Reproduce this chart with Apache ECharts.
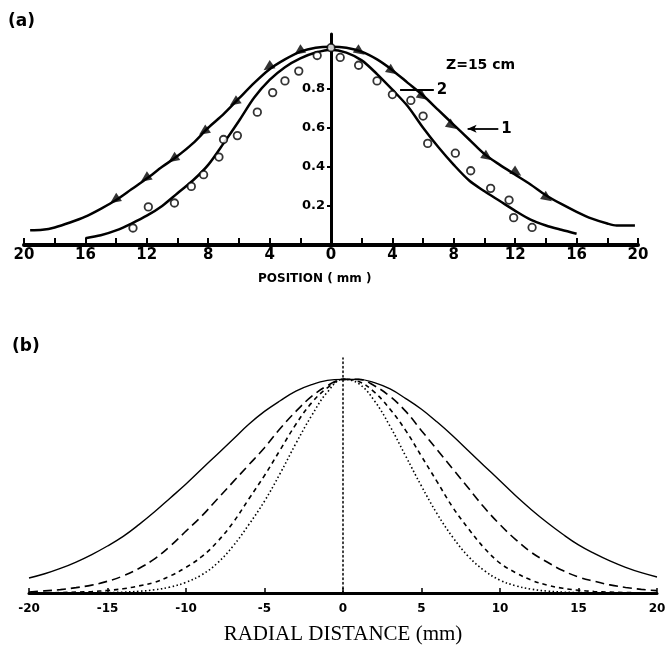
<!DOCTYPE html>
<html>
<head>
<meta charset="utf-8">
<script src="https://cdn.jsdelivr.net/npm/echarts@6/dist/echarts.min.js"></script>
<style>
html,body{margin:0;padding:0;background:#fff;}
#chart{width:668px;height:647px;}
</style>
</head>
<body>
<div id="chart"></div>
<script>
// ---------- Panel (a): POSITION (mm) ----------
const posTickValues = [-20,-18,-16,-14,-12,-10,-8,-6,-4,-2,0,2,4,6,8,10,12,14,16,18,20];
const posLabelValues = [-20,-16,-12,-8,-4,0,4,8,12,16,20];
const aYLabelValues = [0.2,0.4,0.6,0.8];

// measured points, curve 1 (triangles)
const tri1 = [[-14.1,0.23],[-12.1,0.34],[-10.3,0.44],[-8.3,0.58],[-6.3,0.73],[-4.1,0.91],[-2.1,0.99],
              [1.9,0.99],[4.0,0.89],[6.0,0.76],[7.9,0.61],[10.2,0.45],[12.1,0.37],[14.1,0.24]];
// measured points, curve 2 (open circles)
const circ2 = [[-12.9,0.087],[-11.9,0.195],[-10.2,0.215],[-9.1,0.30],[-8.3,0.36],[-7.3,0.45],[-7.0,0.54],
               [-6.1,0.56],[-4.8,0.68],[-3.8,0.78],[-3.0,0.84],[-2.1,0.89],[-0.9,0.97],[0,1.01],[0.6,0.96],
               [1.8,0.92],[3.0,0.84],[4.0,0.77],[5.2,0.74],[6.0,0.66],[6.3,0.52],[8.1,0.47],[9.1,0.38],
               [10.4,0.29],[11.6,0.23],[11.9,0.14],[13.1,0.09]];
// fitted curve 1
const fit1 = [[-19.6,0.075],[-18.8,0.078],[-18,0.09],[-17,0.115],[-16,0.145],[-15,0.185],[-14,0.23],[-13,0.285],
              [-12,0.34],[-11,0.40],[-10,0.455],[-9,0.52],[-8,0.60],[-7,0.67],[-6,0.75],[-5,0.83],[-4,0.90],
              [-3,0.95],[-2,0.99],[-1,1.01],[0,1.015],[1,1.01],[2,0.99],[3,0.95],[4,0.895],[5,0.83],[6,0.765],
              [7,0.69],[8,0.615],[9,0.54],[10,0.465],[11,0.41],[12,0.36],[13,0.31],[14,0.255],[15,0.21],
              [16,0.17],[17,0.135],[18,0.11],[18.6,0.10],[19.8,0.10]];
// fitted curve 2
const fit2 = [[-16,0.035],[-15,0.05],[-14,0.075],[-13,0.11],[-12,0.15],[-11,0.2],[-10,0.265],[-9,0.33],
              [-8,0.41],[-7,0.52],[-6,0.635],[-5,0.755],[-4,0.845],[-3,0.91],[-2,0.955],[-1,0.985],[0,1.0],
              [1,0.985],[2,0.945],[3,0.875],[4,0.795],[5,0.71],[6,0.60],[7,0.50],[8,0.41],[9,0.33],[10,0.275],
              [11,0.225],[12,0.175],[13,0.13],[14,0.10],[15,0.078],[16,0.058]];

// ---------- Panel (b): RADIAL DISTANCE (mm) ----------
const radialX = [-20,-19,-18,-17,-16,-15,-14,-13,-12,-11,-10,-9,-8,-7,-6,-5,-4,-3,-2,-1,0,
                 1,2,3,4,5,6,7,8,9,10,11,12,13,14,15,16,17,18,19,20];
const radialTicks = [-20,-15,-10,-5,0,5,10,15,20];
const solidVals = [0.07,0.09,0.115,0.145,0.18,0.22,0.265,0.32,0.38,0.445,0.51,0.58,0.65,0.72,0.79,0.85,0.9,0.945,0.975,0.995,1.0,
                   1.0,0.985,0.955,0.91,0.86,0.80,0.735,0.665,0.595,0.525,0.455,0.39,0.33,0.275,0.225,0.185,0.15,0.12,0.095,0.075];
const longDashVals = [0.005,0.01,0.016,0.025,0.037,0.055,0.08,0.115,0.16,0.22,0.29,0.36,0.44,0.52,0.60,0.68,0.77,0.85,0.92,0.97,1.0,
                      1.0,0.97,0.92,0.85,0.76,0.67,0.58,0.49,0.40,0.32,0.25,0.19,0.145,0.105,0.075,0.055,0.038,0.026,0.017,0.011];
const shortDashVals = [0,0,0.002,0.004,0.007,0.012,0.02,0.033,0.05,0.08,0.12,0.17,0.24,0.33,0.44,0.55,0.67,0.79,0.89,0.96,1.0,
                       0.99,0.94,0.86,0.76,0.64,0.52,0.40,0.30,0.21,0.14,0.095,0.06,0.037,0.022,0.013,0.007,0.004,0.002,0.001,0];
const dottedVals = [0,0,0,0,0.001,0.002,0.004,0.008,0.015,0.028,0.05,0.085,0.14,0.22,0.32,0.43,0.56,0.70,0.83,0.94,1.0,
                    0.98,0.90,0.78,0.64,0.50,0.37,0.26,0.17,0.105,0.06,0.034,0.018,0.009,0.004,0.002,0,0,0,0,0];

const zip = vals => radialX.map((x, i) => [x, vals[i]]);

const boldSans = {fontFamily: 'DejaVu Sans', fontWeight: 'bold', color: '#000'};

const gridA = {left: 24, width: 614, top: 34, height: 211};
const chart = echarts.init(document.getElementById('chart'), null, {renderer: 'canvas'});
chart.setOption({
  backgroundColor: '#fff',
  animation: false,
  grid: [
    Object.assign({outerBoundsMode: 'none', containLabel: false}, gridA),
    {left: 29, width: 628, top: 358, height: 235, outerBoundsMode: 'none', containLabel: false}
  ],
  xAxis: [
    {
      gridIndex: 0, type: 'value', min: -20, max: 20, interval: 2,
      axisLine: {onZero: false, lineStyle: {color: '#000', width: 4}},
      axisTick: {inside: true, length: 7, customValues: posTickValues, lineStyle: {color: '#000', width: 2}},
      axisLabel: Object.assign({customValues: posLabelValues, formatter: v => String(Math.abs(v)), fontSize: 15, margin: 3}, boldSans),
      splitLine: {show: false}
    },
    {
      gridIndex: 1, type: 'value', min: -20, max: 20, interval: 5,
      axisLine: {onZero: false, lineStyle: {color: '#000', width: 3}},
      axisTick: {inside: true, length: 5, customValues: radialTicks, lineStyle: {color: '#000', width: 1.5}},
      axisLabel: Object.assign({customValues: radialTicks, fontSize: 12, margin: 10}, boldSans),
      splitLine: {show: false},
      name: 'RADIAL DISTANCE (mm)', nameLocation: 'middle', nameGap: 31,
      nameTextStyle: {fontFamily: 'Liberation Serif', fontSize: 21, color: '#000'}
    }
  ],
  yAxis: [
    {
      gridIndex: 0, type: 'value', min: 0, max: 1.08, position: 'left',
      offset: -(gridA.width / 2),
      axisLine: {show: true, onZero: false, lineStyle: {color: '#000', width: 3}},
      axisTick: {show: true, length: 4, customValues: aYLabelValues, lineStyle: {color: '#000', width: 2}},
      axisLabel: Object.assign({customValues: aYLabelValues, formatter: v => v.toFixed(1), fontSize: 13, margin: 6}, boldSans),
      splitLine: {show: false}
    },
    {
      gridIndex: 1, type: 'value', min: 0, max: 1.1,
      axisLine: {show: true, onZero: true, lineStyle: {color: '#000', width: 1.5, type: [1.5, 3]}},
      axisTick: {show: false}, axisLabel: {show: false}, splitLine: {show: false}
    }
  ],
  series: [
    {
      name: 'fit1', type: 'line', xAxisIndex: 0, yAxisIndex: 0, data: fit1, smooth: 0.3,
      showSymbol: false, lineStyle: {color: '#000', width: 2.5},
      markLine: {
        silent: true, animation: false, symbol: ['arrow', 'none'], symbolSize: [6, 9],
        lineStyle: {color: '#000', width: 1.8, type: 'solid'},
        label: Object.assign({show: true, position: 'end', formatter: '1', fontSize: 15, distance: 3}, boldSans),
        data: [[{coord: [8.9, 0.595]}, {coord: [10.9, 0.595]}]]
      }
    },
    {
      name: 'fit2', type: 'line', xAxisIndex: 0, yAxisIndex: 0, data: fit2, smooth: 0.3,
      showSymbol: false, lineStyle: {color: '#000', width: 2.5},
      markLine: {
        silent: true, animation: false, symbol: ['none', 'none'],
        lineStyle: {color: '#000', width: 1.8, type: 'solid'},
        label: Object.assign({show: true, position: 'end', formatter: '2', fontSize: 15, distance: 3}, boldSans),
        data: [[{coord: [4.5, 0.795]}, {coord: [6.7, 0.795]}]]
      }
    },
    {
      name: 'tri1', type: 'scatter', xAxisIndex: 0, yAxisIndex: 0, data: tri1, z: 5,
      symbol: 'triangle', symbolSize: [10, 11],
      symbolRotate: v => (v[0] < 0 ? 125 : -125),
      itemStyle: {color: '#000'}
    },
    {
      name: 'circ2', type: 'scatter', xAxisIndex: 0, yAxisIndex: 0, data: circ2, z: 6,
      symbol: 'circle', symbolSize: 7.5,
      itemStyle: {color: '#fff', borderColor: '#000', borderWidth: 1.8}
    },
    {
      name: 'solid', type: 'line', xAxisIndex: 1, yAxisIndex: 1, data: zip(solidVals), smooth: 0.4,
      showSymbol: false, lineStyle: {color: '#000', width: 1.4}
    },
    {
      name: 'longdash', type: 'line', xAxisIndex: 1, yAxisIndex: 1, data: zip(longDashVals), smooth: 0.4,
      showSymbol: false, lineStyle: {color: '#000', width: 1.6, type: [9, 5]}
    },
    {
      name: 'shortdash', type: 'line', xAxisIndex: 1, yAxisIndex: 1, data: zip(shortDashVals), smooth: 0.4,
      showSymbol: false, lineStyle: {color: '#000', width: 1.6, type: [4.5, 4]}
    },
    {
      name: 'dotted', type: 'line', xAxisIndex: 1, yAxisIndex: 1, data: zip(dottedVals), smooth: 0.4,
      showSymbol: false, lineStyle: {color: '#000', width: 1.6, type: [1.5, 2.5]}
    }
  ],
  graphic: [
    {type: 'text', left: 8, top: 13, style: {text: '(a)', font: 'bold 17px "DejaVu Sans"', fill: '#000'}},
    {type: 'text', left: 12, top: 338, style: {text: '(b)', font: 'bold 17px "DejaVu Sans"', fill: '#000'}},
    {type: 'text', left: 446, top: 58, style: {text: 'Z=15 cm', font: 'bold 14px "DejaVu Sans"', fill: '#000'}},
    {type: 'text', left: 258, top: 273, style: {text: 'POSITION ( mm )', font: 'bold 12px "DejaVu Sans"', fill: '#000'}}
  ]
});
</script>
</body>
</html>
